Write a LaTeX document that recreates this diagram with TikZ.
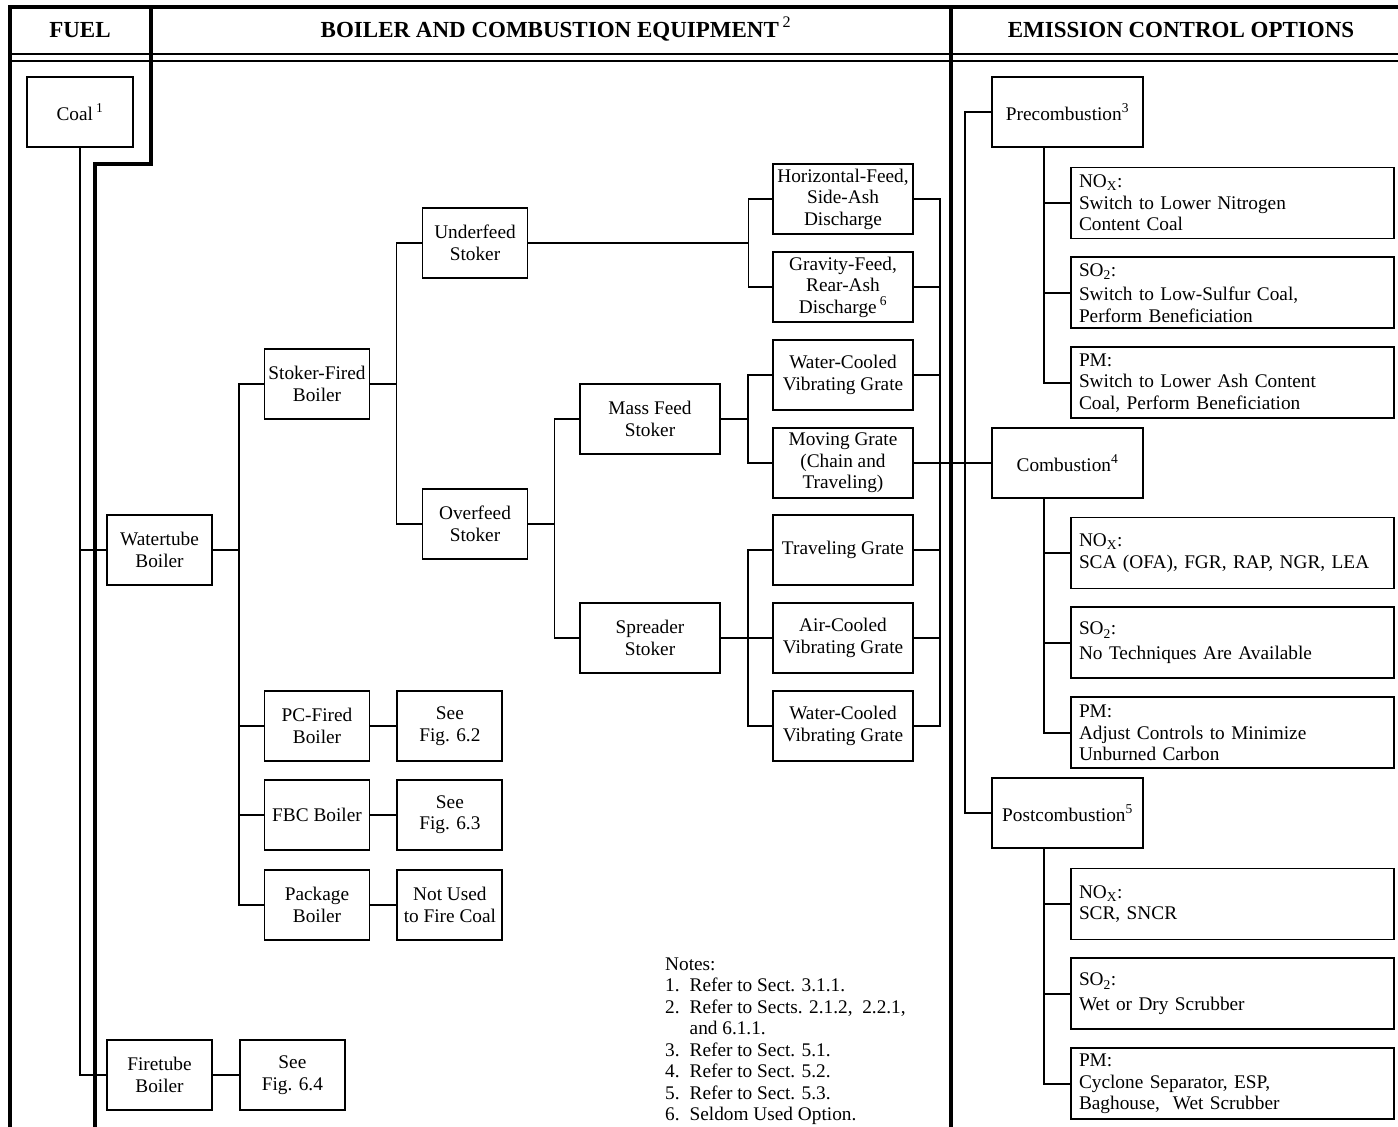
\documentclass[tikz,border=0pt]{standalone}
\usepackage{fontspec}
\setmainfont{Liberation Serif}
\usetikzlibrary{positioning}

\begin{document}
\begin{tikzpicture}[x=1pt,y=-1pt,
		font=\fontsize{19.3}{21.5}\selectfont,
		line join=miter,
		blk/.style={draw,line width=1.9pt,align=center,minimum width=105pt,minimum height=70pt,inner sep=1pt},
		wideblk/.style={blk,minimum width=140pt},
		ctlblk/.style={blk,minimum width=151pt},
		optblk/.style={draw,line width=1.9pt,align=left,text width=307pt,minimum height=71pt,inner xsep=8pt,inner ysep=1pt},
		hdr/.style={anchor=base,font=\fontsize{23}{25}\selectfont\bfseries},
		link/.style={line width=1.9pt},
		frame/.style={line width=3.8pt},
		rule/.style={line width=1.4pt}]
		\useasboundingbox (0,0) rectangle (1398,1127);

		% frame and headings
		\draw[rule] (10,54) -- (1398,54);
		\draw[rule] (10,61) -- (1398,61);
		\draw[frame] (8,7) -- (1398,7);
		\draw[frame] (10,7) -- (10,1127);
		\draw[frame] (151,7) -- (151,164) -- (95,164) -- (95,1127);
		\draw[frame] (951,7) -- (951,1127);
		\node[hdr] (hfuel) at (80,37) {FUEL};
		\node[hdr] (hboil) at (556,37) {BOILER AND COMBUSTION EQUIPMENT\,\textsuperscript{\mdseries 2}};
		\node[hdr] (hemis) at (1181,37) {EMISSION CONTROL OPTIONS};

		% fuel and boilers
		\node[blk,minimum width=106pt]					(coal)		at (80,112)		{Coal\,\textsuperscript{1}};
		\node[blk]										(water)		at (159.5,550)	{Watertube\\Boiler};
		\node[blk]										(fire)		at (159.5,1075)	{Firetube\\Boiler};
		\node[blk,node distance=26pt,right=of fire]		(fig64)					{See\\Fig. 6.4};
		\node[blk]										(stoker)	at (317,384)	{Stoker-Fired\\Boiler};
		\node[blk]										(pc)		at (317,726)	{PC-Fired\\Boiler};
		\node[blk,node distance=17pt,below=of pc]		(fbc)					{FBC Boiler};
		\node[blk,node distance=18pt,below=of fbc]		(pkg)					{Package\\Boiler};
		\node[blk,node distance=26pt,right=of pc]		(fig62)					{See\\Fig. 6.2};
		\node[blk,node distance=26pt,right=of fbc]		(fig63)					{See\\Fig. 6.3};
		\node[blk,node distance=26pt,right=of pkg]		(notused)				{Not Used\\to Fire Coal};

		% stokers and grates
		\node[blk]		(under)		at (475,243)	{Underfeed\\Stoker};
		\node[blk]		(over)		at (475,524)	{Overfeed\\Stoker};
		\node[wideblk]	(mass)		at (650,419)	{Mass Feed\\Stoker};
		\node[wideblk]	(spread)	at (650,638)	{Spreader\\Stoker};
		\node[wideblk]	(hfeed)		at (843,199)	{Horizontal-Feed,\\Side-Ash\\Discharge};
		\node[wideblk]	(gfeed)		at (843,287)	{Gravity-Feed,\\Rear-Ash\\Discharge\,\textsuperscript{6}};
		\node[wideblk]	(wcool)		at (843,375)	{Water-Cooled\\Vibrating Grate};
		\node[wideblk]	(moving)	at (843,463)	{Moving Grate\\(Chain and\\Traveling)};
		\node[wideblk]	(travel)	at (843,550)	{Traveling Grate};
		\node[wideblk]	(acool)		at (843,638)	{Air-Cooled\\Vibrating Grate};
		\node[wideblk]	(wcooltwo)	at (843,726)	{Water-Cooled\\Vibrating Grate};

		% emission control options
		\node[ctlblk]	(pre)	at (1067.5,112)	{Precombustion\textsuperscript{3}};
		\node[ctlblk]	(comb)	at (1067.5,463)	{Combustion\textsuperscript{4}};
		\node[ctlblk]	(post)	at (1067.5,813)	{Postcombustion\textsuperscript{5}};
		\node[optblk]								(prenox)	at (1232.5,203)	{NO\textsubscript{X}:\\Switch to Lower Nitrogen\\Content Coal};
		\node[optblk,node distance=17pt,below=of prenox]	(preso)		{SO\textsubscript{2}:\\[3pt]Switch to Low-Sulfur Coal,\\Perform Beneficiation};
		\node[optblk,node distance=17pt,below=of preso]		(prepm)		{PM:\\Switch to Lower Ash Content\\Coal, Perform Beneficiation};
		\node[optblk]								(combnox)	at (1232.5,553)	{NO\textsubscript{X}:\\SCA (OFA), FGR, RAP, NGR, LEA};
		\node[optblk,node distance=17pt,below=of combnox]	(combso)	{SO\textsubscript{2}:\\[3pt]No Techniques Are Available};
		\node[optblk,node distance=17pt,below=of combso]	(combpm)	{PM:\\Adjust Controls to Minimize\\Unburned Carbon};
		\node[optblk]								(postnox)	at (1232.5,904)	{NO\textsubscript{X}:\\SCR, SNCR};
		\node[optblk,node distance=17pt,below=of postnox]	(postso)	{SO\textsubscript{2}:\\[3pt]Wet or Dry Scrubber};
		\node[optblk,node distance=17pt,below=of postso]	(postpm)	{PM:\\Cyclone Separator, ESP,\\Baghouse,\ \ Wet Scrubber};

		% notes
		\node[anchor=north west,inner sep=0pt] (notes) at (665,955) {%
			\begin{tabular}{@{}l@{\hspace{10pt}}l@{}}
				\multicolumn{2}{@{}l}{Notes:}\\
				1. & Refer to Sect. 3.1.1.\\
				2. & Refer to Sects. 2.1.2,\ \ 2.2.1,\\
				   & and 6.1.1.\\
				3. & Refer to Sect. 5.1.\\
				4. & Refer to Sect. 5.2.\\
				5. & Refer to Sect. 5.3.\\
				6. & Seldom Used Option.
			\end{tabular}};

		% connectors
		\draw[link] (coal.south) |- (water.west);
		\draw[link] (coal.south) |- (fire.west);
		\draw[link] (fire.east) -- (fig64.west);
		\draw[link] (water.east) -- ++(26,0) |- (stoker.west);
		\draw[link] (water.east) -- ++(26,0) |- (pc.west);
		\draw[link] (water.east) -- ++(26,0) |- (fbc.west);
		\draw[link] (water.east) -- ++(26,0) |- (pkg.west);
		\draw[link] (pc.east) -- (fig62.west);
		\draw[link] (fbc.east) -- (fig63.west);
		\draw[link] (pkg.east) -- (notused.west);
		\draw[link] (stoker.east) -- ++(26,0) |- (under.west);
		\draw[link] (stoker.east) -- ++(26,0) |- (over.west);
		\draw[link] (under.east) -- ++(220,0) |- (hfeed.west);
		\draw[link] (under.east) -- ++(220,0) |- (gfeed.west);
		\draw[link] (over.east) -- ++(26,0) |- (mass.west);
		\draw[link] (over.east) -- ++(26,0) |- (spread.west);
		\draw[link] (mass.east) -- ++(27,0) |- (wcool.west);
		\draw[link] (mass.east) -- ++(27,0) |- (moving.west);
		\draw[link] (spread.east) -- ++(27,0) |- (travel.west);
		\draw[link] (spread.east) -- ++(27,0) |- (acool.west);
		\draw[link] (spread.east) -- ++(27,0) |- (wcooltwo.west);
		\draw[link] (hfeed.east) -- ++(26,0) |- (comb.west);
		\draw[link] (gfeed.east) -- ++(26,0) |- (comb.west);
		\draw[link] (wcool.east) -- ++(26,0) |- (comb.west);
		\draw[link] (moving.east) -- (comb.west);
		\draw[link] (travel.east) -- ++(26,0) |- (comb.west);
		\draw[link] (acool.east) -- ++(26,0) |- (comb.west);
		\draw[link] (wcooltwo.east) -- ++(26,0) |- (comb.west);
		\draw[link] (pre.west) -- ++(-26,0) |- (post.west);
		\draw[link] ([xshift=53pt]pre.south west) |- (prenox.west);
		\draw[link] ([xshift=53pt]pre.south west) |- (preso.west);
		\draw[link] ([xshift=53pt]pre.south west) |- (prepm.west);
		\draw[link] ([xshift=53pt]comb.south west) |- (combnox.west);
		\draw[link] ([xshift=53pt]comb.south west) |- (combso.west);
		\draw[link] ([xshift=53pt]comb.south west) |- (combpm.west);
		\draw[link] ([xshift=53pt]post.south west) |- (postnox.west);
		\draw[link] ([xshift=53pt]post.south west) |- (postso.west);
		\draw[link] ([xshift=53pt]post.south west) |- (postpm.west);
	\end{tikzpicture}
\end{document}
